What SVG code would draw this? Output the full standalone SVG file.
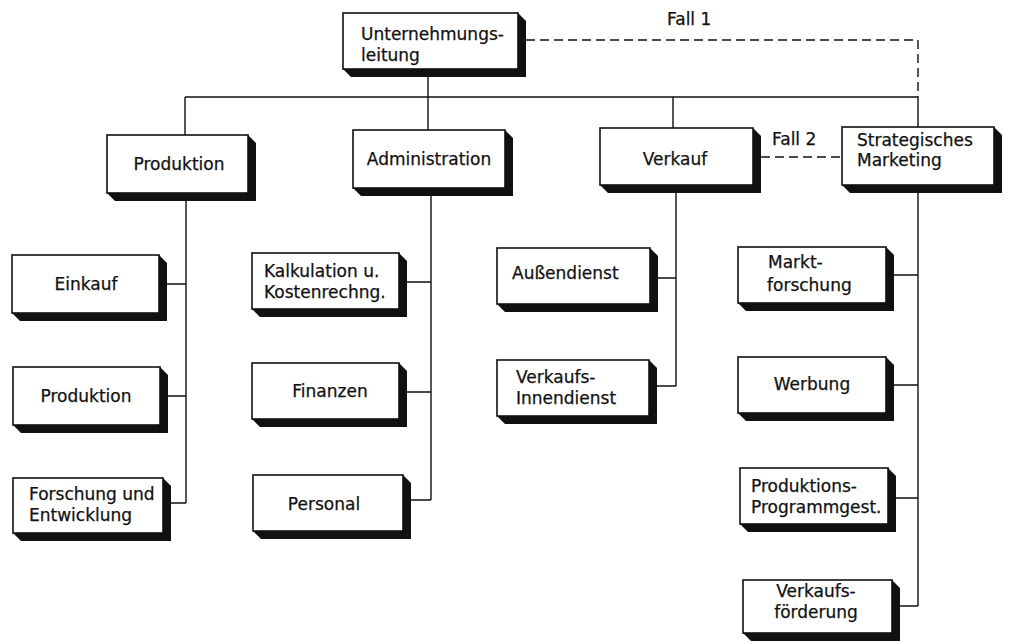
<svg xmlns="http://www.w3.org/2000/svg" width="1010" height="644" viewBox="0 0 1010 644">
  <style>
    .face { fill: #fff; stroke: #111; stroke-width: 1.6; }
    .shadow { fill: #111; }
    .t { font-family: "DejaVu Sans", "Liberation Sans", sans-serif; font-size: 17px; fill: #111; stroke: #111; stroke-width: 0.25; }
    .c { text-anchor: middle; }
    .ln { stroke: #111; stroke-width: 1.4; fill: none; }
    .dash { stroke-dasharray: 9 5; }
  </style>
  <rect width="1010" height="644" fill="#fff"/>

  <!-- connectors -->
  <g id="connectors">
    <path class="ln" d="M428,77 V97 M185,97 H918 M185,97 V135 M428,97 V130 M673,97 V128 M918,97 V127"/>
    <path class="ln" d="M186,201 V503 M167,284 H186 M168,396 H186 M171,503 H186"/>
    <path class="ln" d="M431,196 V500 M407,282 H431 M407,392 H431 M411,500 H431"/>
    <path class="ln" d="M676,193 V386 M658,278 H676 M657,386 H676"/>
    <path class="ln" d="M918,193 V606 M894,275 H918 M894,385 H918 M896,498 H918 M900,606 H918"/>
    <path class="ln dash" d="M526,40 H918 V97"/>
    <path class="ln dash" d="M761,157 H842"/>
    <text class="t" x="667" y="25">Fall 1</text>
    <text class="t" x="772" y="145">Fall 2</text>
  </g>

  <g id="unternehmungsleitung">
    <polygon class="shadow" points="343,69 351,77 526,77 526,21 518,13 518,69"/>
    <rect class="face" x="343" y="13" width="175" height="56"/>
    <text class="t" x="361" y="40">Unternehmungs-</text>
    <text class="t" x="361" y="61">leitung</text>
  </g>

  <g id="produktion">
    <polygon class="shadow" points="107,193 115,201 256,201 256,143 248,135 248,193"/>
    <rect class="face" x="107" y="135" width="141" height="58"/>
    <text class="t c" x="179" y="170">Produktion</text>
  </g>

  <g id="administration">
    <polygon class="shadow" points="353,188 361,196 513,196 513,138 505,130 505,188"/>
    <rect class="face" x="353" y="130" width="152" height="58"/>
    <text class="t c" x="429" y="165">Administration</text>
  </g>

  <g id="verkauf">
    <polygon class="shadow" points="600,185 608,193 761,193 761,136 753,128 753,185"/>
    <rect class="face" x="600" y="128" width="153" height="57"/>
    <text class="t c" x="675" y="165">Verkauf</text>
  </g>

  <g id="strategisches-marketing">
    <polygon class="shadow" points="842,185 850,193 1002,193 1002,135 994,127 994,185"/>
    <rect class="face" x="842" y="127" width="152" height="58"/>
    <text class="t" x="857" y="146">Strategisches</text>
    <text class="t" x="857" y="166">Marketing</text>
  </g>

  <g id="einkauf">
    <polygon class="shadow" points="12,313 20,321 167,321 167,263 159,255 159,313"/>
    <rect class="face" x="12" y="255" width="147" height="58"/>
    <text class="t c" x="86" y="290">Einkauf</text>
  </g>

  <g id="produktion-2">
    <polygon class="shadow" points="13,425 21,433 168,433 168,375 160,367 160,425"/>
    <rect class="face" x="13" y="367" width="147" height="58"/>
    <text class="t c" x="86" y="402">Produktion</text>
  </g>

  <g id="forschung">
    <polygon class="shadow" points="13,533 21,541 171,541 171,486 163,478 163,533"/>
    <rect class="face" x="13" y="478" width="150" height="55"/>
    <text class="t" x="29" y="500">Forschung und</text>
    <text class="t" x="29" y="521">Entwicklung</text>
  </g>

  <g id="kalkulation">
    <polygon class="shadow" points="252,309 260,317 407,317 407,261 399,253 399,309"/>
    <rect class="face" x="252" y="253" width="147" height="56"/>
    <text class="t" x="264" y="277">Kalkulation u.</text>
    <text class="t" x="264" y="298">Kostenrechng.</text>
  </g>

  <g id="finanzen">
    <polygon class="shadow" points="252,419 260,427 407,427 407,371 399,363 399,419"/>
    <rect class="face" x="252" y="363" width="147" height="56"/>
    <text class="t c" x="330" y="397">Finanzen</text>
  </g>

  <g id="personal">
    <polygon class="shadow" points="253,531 261,539 411,539 411,483 403,475 403,531"/>
    <rect class="face" x="253" y="475" width="150" height="56"/>
    <text class="t c" x="324" y="510">Personal</text>
  </g>

  <g id="aussendienst">
    <polygon class="shadow" points="497,304 505,312 658,312 658,256 650,248 650,304"/>
    <rect class="face" x="497" y="248" width="153" height="56"/>
    <text class="t" x="512" y="279">Außendienst</text>
  </g>

  <g id="innendienst">
    <polygon class="shadow" points="497,416 505,424 657,424 657,368 649,360 649,416"/>
    <rect class="face" x="497" y="360" width="152" height="56"/>
    <text class="t" x="516" y="383">Verkaufs-</text>
    <text class="t" x="516" y="404">Innendienst</text>
  </g>

  <g id="marktforschung">
    <polygon class="shadow" points="738,303 746,311 894,311 894,255 886,247 886,303"/>
    <rect class="face" x="738" y="247" width="148" height="56"/>
    <text class="t" x="768" y="268">Markt-</text>
    <text class="t" x="767" y="291">forschung</text>
  </g>

  <g id="werbung">
    <polygon class="shadow" points="738,413 746,421 894,421 894,365 886,357 886,413"/>
    <rect class="face" x="738" y="357" width="148" height="56"/>
    <text class="t c" x="812" y="390">Werbung</text>
  </g>

  <g id="programmgestaltung">
    <polygon class="shadow" points="740,524 748,532 896,532 896,476 888,468 888,524"/>
    <rect class="face" x="740" y="468" width="148" height="56"/>
    <text class="t" x="751" y="492">Produktions-</text>
    <text class="t" x="751" y="513">Programmgest.</text>
  </g>

  <g id="verkaufsfoerderung">
    <polygon class="shadow" points="743,633 751,641 900,641 900,588 892,580 892,633"/>
    <rect class="face" x="743" y="580" width="149" height="53"/>
    <text class="t c" x="816" y="597">Verkaufs-</text>
    <text class="t c" x="816" y="618">förderung</text>
  </g>
</svg>
